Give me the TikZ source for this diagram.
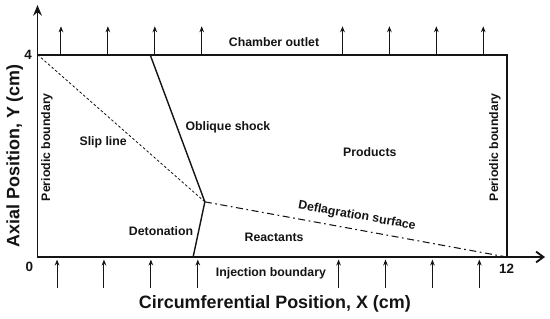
\documentclass[tikz,border=0pt]{standalone}
\usepackage{fontspec}
\setmainfont{Liberation Sans}
\usepackage{xcolor}
\usetikzlibrary{positioning, arrows.meta, calc}
\definecolor{ink}{RGB}{20,20,20}
\tikzset{
  wall/.style      ={line width=1.6pt, color=ink},
  axisarr/.style   ={->, >={Stealth[length=3.2mm, width=2.6mm]}, line width=1.6pt, color=ink},
  openarr/.style   ={->, >={Straight Barb[length=2.2mm, width=3.2mm]}, line width=1.6pt, color=ink},
  flowarr/.style   ={->, >={Stealth[length=1.8mm, width=1.4mm]}, line width=0.9pt, color=ink},
  shockline/.style ={line width=1.2pt, color=ink},
  slipline/.style  ={line width=0.7pt, color=ink, dash pattern=on 2.2pt off 1.8pt},
  flameline/.style ={line width=0.9pt, color=ink, dash pattern=on 6pt off 3pt on 1.5pt off 3pt},
  zonelabel/.style ={font=\fontsize{10.5}{12}\selectfont\bfseries, color=ink, inner sep=0pt},
  ticklabel/.style ={font=\fontsize{11.5}{13}\selectfont\bfseries, color=ink, inner sep=0pt},
  axislabel/.style ={font=\fontsize{15.3}{17}\selectfont\bfseries, color=ink, inner sep=0pt},
}
\begin{document}
\begin{tikzpicture}[x=1.173cm, y=1.518cm]
\useasboundingbox (-0.959,-1.225) rectangle (13.107,5.079);
% frame corners and wave points
\coordinate (O)        at (0,0);
\coordinate (topL)     at (0,4);
\coordinate (topR)     at (12,4);
\coordinate (botR)     at (12,0);
\coordinate (xEnd)     at (12.98,0);
\coordinate (yEnd)     at (0,4.98);
\coordinate (shockTop) at (2.88,4);
\coordinate (shockBot) at (3.98,0);
\coordinate (triple)   at (4.28,1.09);
% axes and chamber walls
\draw[openarr] (O) -- (xEnd);
\draw[axisarr] (O) -- (yEnd);
\draw[wall] (topL) -- (topR) -- (botR);
% outflow and injection arrows
\foreach \k in {0,1,2,3,6,7,8,9} {
  \coordinate (out\k)  at ({0.6+1.2*\k},4);
  \coordinate (outT\k) at ({0.6+1.2*\k},4.56);
  \draw[flowarr] (out\k) -- (outT\k);
  \coordinate (inB\k)  at ({0.5+1.2*\k},-0.61);
  \coordinate (inT\k)  at ({0.5+1.2*\k},-0.05);
  \draw[flowarr] (inB\k) -- (inT\k);
}
% wave structure
\draw[shockline] (shockTop) -- (triple) -- (shockBot);
\draw[slipline] (topL) -- (triple);
\draw[flameline] (triple) -- (botR);
% labels
\node[ticklabel] (tick4)  at (-0.24,4)     {4};
\node[ticklabel] (tick0)  at (-0.21,-0.2)  {0};
\node[ticklabel] (tick12) at (12.0,-0.24)  {12};
\node[zonelabel] (outlet)    at (6.05,4.25) {Chamber outlet};
\node[zonelabel] (injection) at (5.97,-0.32) {Injection boundary};
\node[zonelabel] (oblique)   at (4.87,2.57) {Oblique shock};
\node[zonelabel] (products)  at (8.50,2.08) {Products};
\node[zonelabel] (slip)      at (1.68,2.27) {Slip line};
\node[zonelabel] (deton)     at (3.16,0.51) {Detonation};
\node[zonelabel] (reactants) at (6.05,0.38) {Reactants};
\node[zonelabel, rotate=-10] (deflag) at (8.17,0.81) {Deflagration surface};
\node[zonelabel, rotate=90] (perL) at (0.24,2.17)  {Periodic boundary};
\node[zonelabel, rotate=90] (perR) at (11.70,2.17) {Periodic boundary};
\node[axislabel, rotate=90] (ylab) at (-0.58,2.0)  {Axial Position, Y (cm)};
\node[axislabel] (xlab) at (6.07,-0.93) {Circumferential Position, X (cm)};
\end{tikzpicture}
\end{document}
